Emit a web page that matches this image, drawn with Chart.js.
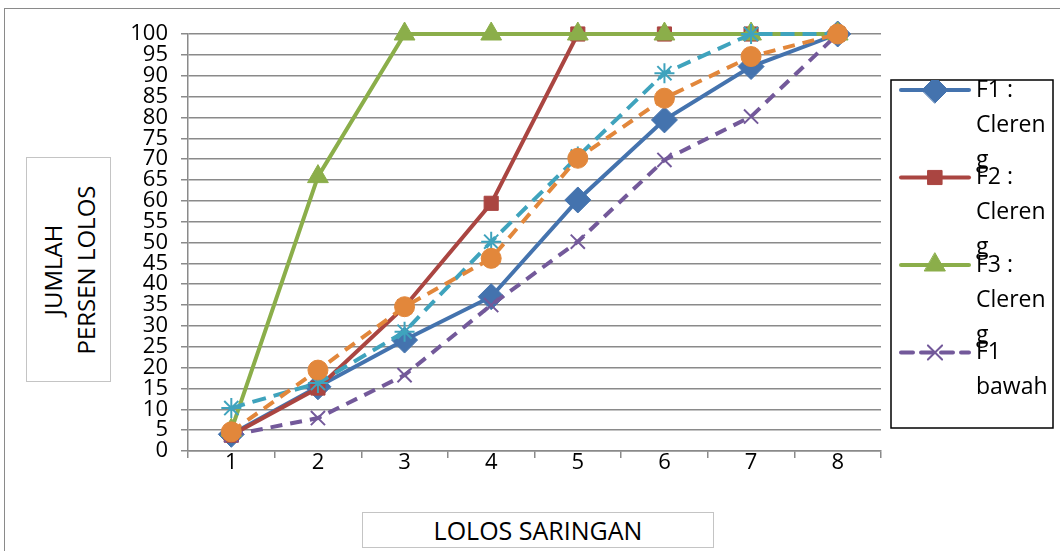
<!DOCTYPE html>
<html>
<head>
<meta charset="utf-8">
<script src="https://cdn.jsdelivr.net/npm/chart.js@4/dist/chart.umd.min.js"></script>
<style>
  body { margin: 0; background: #fff; font-family: 'Open Sans', sans-serif; }
  #wrap { position: relative; width: 1060px; height: 551px; overflow: hidden; }
  #frame { position: absolute; left: 4px; top: 8px; width: 1100px; height: 600px;
           border-left: 1.5px solid #8a8a8a; border-top: 1.5px solid #8a8a8a; }
  canvas { position: absolute; left: 0; top: 0; }
  .axis-title { position: absolute; background: #fff; border: 1.5px solid #c4c4c4; box-sizing: border-box;
                font-size: 24px; color: #000; }
  #ytitle { left: 26px; top: 157px; width: 85px; height: 225px; }
  #ytitle span { position: absolute; left: 50%; top: 50%; transform: translate(-50%, -50%) rotate(-90deg);
                 text-align: center; line-height: 33px; white-space: nowrap; }
  #xtitle { left: 362px; top: 512px; width: 352px; height: 36px; text-align: center; line-height: 34px; font-size: 25px; }
</style>
</head>
<body>
<div id="wrap">
  <div id="frame"></div>
  <canvas id="chart" width="1060" height="551"></canvas>
  <div id="ytitle" class="axis-title"><span>JUMLAH<br>PERSEN LOLOS</span></div>
  <div id="xtitle" class="axis-title">LOLOS SARINGAN</div>
</div>
<script>
// data
const categories = ['1', '2', '3', '4', '5', '6', '7', '8'];
const f1Clereng = [4, 15.4, 26.6, 37, 60.2, 79.4, 92.2, 100];
const f2Clereng = [3.8, 15.1, 34.6, 59.4, 100, 100, 100, 100];
const f3Clereng = [5, 65.8, 100, 100, 100, 100, 100, 100];
const f1Bawah = [3.8, 7.9, 18.2, 35, 50.2, 69.8, 80.2, 100];
const f2Bawah = [10.3, 16.3, 28.6, 50.2, 70.6, 90.6, 100, 100];
const f3Bawah = [4.6, 19.4, 34.6, 46.2, 70.2, 84.6, 94.6, 100];
const seriesLabels = ['F1 : Clereng', 'F2 : Clereng', 'F3 : Clereng', 'F1 bawah', 'F2 bawah', 'F3 bawah'];
const yMin = 0, yMax = 100, yStep = 5;

const FONT = "'Open Sans', sans-serif";
const gridColor = '#8a8a8a';

function series(label, data, color, style, radius, dash, order) {
    const stroke = style === 'star' || style === 'crossRot';
    return {
        label: label,
        data: data,
        borderColor: color,
        backgroundColor: color,
        borderWidth: 4,
        borderDash: dash,
        pointStyle: style,
        pointRadius: radius,
        pointHoverRadius: radius,
        pointBorderWidth: stroke ? 2 : 1,
        pointBackgroundColor: color,
        pointBorderColor: color,
        tension: 0,
        clip: false,
        order: order
    };
}

// wraps legend text to the box width, breaking long words by character
function wrapText(ctx, text, maxW) {
    const words = text.split(' ');
    const lines = [];
    let cur = '';
    words.forEach(w => {
        const test = cur ? cur + ' ' + w : w;
        if (ctx.measureText(test).width <= maxW) { cur = test; return; }
        if (cur) lines.push(cur);
        cur = '';
        let part = '';
        for (const ch of w) {
            if (ctx.measureText(part + ch).width > maxW && part) { lines.push(part); part = ch; }
            else part += ch;
        }
        cur = part;
    });
    if (cur) lines.push(cur);
    return lines;
}

const legendBox = {
    id: 'legendBox',
    afterDraw(chart) {
        const ctx = chart.ctx;
        const bx = 891, by = 80, bw = 162, bh = 348;
        ctx.save();
        ctx.fillStyle = '#fff';
        ctx.fillRect(bx, by, bw, bh);
        ctx.strokeStyle = '#000';
        ctx.lineWidth = 1.5;
        ctx.strokeRect(bx, by, bw, bh);
        ctx.beginPath();
        ctx.rect(bx, by, bw, bh);
        ctx.clip();
        ctx.font = '23px ' + FONT;
        ctx.textBaseline = 'middle';
        chart.data.datasets.forEach((ds, i) => {
            const y = 90 + i * 87.5;
            ctx.strokeStyle = ds.borderColor;
            ctx.lineWidth = 4;
            ctx.lineCap = 'round';
            ctx.setLineDash(ds.borderDash || []);
            ctx.beginPath();
            ctx.moveTo(901, y);
            ctx.lineTo(969, y);
            ctx.stroke();
            ctx.setLineDash([]);
            ctx.fillStyle = ds.pointBackgroundColor;
            ctx.strokeStyle = ds.pointBorderColor;
            ctx.lineWidth = ds.pointBorderWidth;
            Chart.helpers.drawPoint(ctx, {
                pointStyle: ds.pointStyle, radius: ds.pointRadius, rotation: 0, borderWidth: ds.pointBorderWidth
            }, 935, y);
            ctx.fillStyle = '#000';
            wrapText(ctx, ds.label, 78).forEach((line, j) => {
                ctx.fillText(line, 976, y + j * 35);
            });
        });
        ctx.restore();
    }
};

new Chart(document.getElementById('chart'), {
    type: 'line',
    data: {
        labels: categories,
        datasets: [
            series(seriesLabels[0], f1Clereng, '#4473ae', 'rectRot', 13, [], 6),
            series(seriesLabels[1], f2Clereng, '#aa4541', 'rect', 10, [], 5),
            series(seriesLabels[2], f3Clereng, '#8bae4a', 'triangle', 12, [], 4),
            series(seriesLabels[3], f1Bawah, '#73599a', 'crossRot', 10, [12, 8], 3),
            series(seriesLabels[4], f2Bawah, '#3fa3bd', 'star', 10, [14, 8], 2),
            series(seriesLabels[5], f3Bawah, '#e2873b', 'circle', 10, [12, 8], 1)
        ]
    },
    options: {
        responsive: false,
        animation: false,
        events: [],
        layout: { padding: { left: 0, top: 34, right: 179, bottom: 0 } },
        plugins: {
            legend: { display: false },
            tooltip: { enabled: false }
        },
        scales: {
            x: {
                offset: true,
                afterFit: s => { s.height = 100; },
                grid: { offset: true, drawOnChartArea: false, drawTicks: true, tickLength: 7,
                        color: 'rgba(0,0,0,0)', tickColor: gridColor, lineWidth: 1.5 },
                border: { color: gridColor, width: 1.5 },
                ticks: { color: '#000', font: { family: FONT, size: 22 }, maxRotation: 0, autoSkip: false, padding: -8 }
            },
            y: {
                min: yMin,
                max: yMax,
                afterFit: s => { s.width = 188; },
                grid: { color: gridColor, lineWidth: 1.5, tickLength: 7 },
                border: { color: gridColor, width: 1.5 },
                ticks: { stepSize: yStep, autoSkip: false, color: '#000', font: { family: FONT, size: 22, lineHeight: 1 }, padding: 13 }
            }
        }
    },
    plugins: [legendBox]
});
</script>
</body>
</html>
